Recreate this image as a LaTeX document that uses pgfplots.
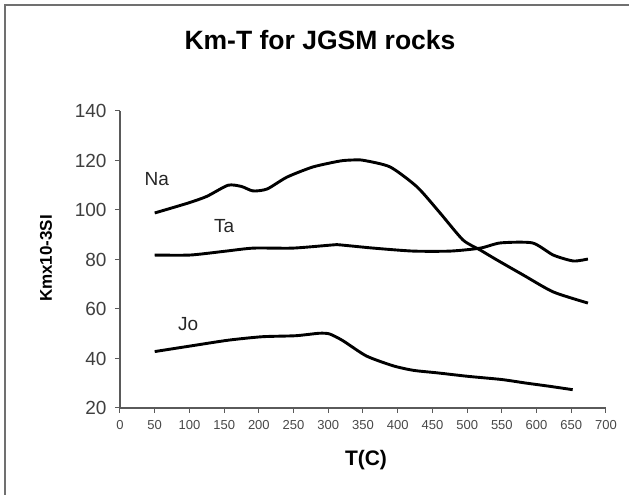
\documentclass[border=0pt]{standalone}
\usepackage{pgfplots}
\pgfplotsset{compat=1.18}
\usepackage{fontspec}
\setmainfont{Liberation Sans}
\definecolor{axgray}{HTML}{5A5A5A}
\definecolor{framegray}{HTML}{707070}
\begin{document}
\begin{tikzpicture}[x=1pt,y=1pt]
\useasboundingbox (-120,-87) rectangle (509,408);
\draw[framegray, line width=2pt] (-115,-90) -- (-115,403) -- (512,403);
\begin{axis}[
  at={(0,0)}, anchor=origin,
  scale only axis, width=486pt, height=297pt,
  xmin=0, xmax=700, ymin=20, ymax=140,
  xtick={0,50,...,700}, ytick={20,40,...,140},
  axis x line*=bottom, axis y line*=left,
  axis line style={axgray, line width=1.3pt, -},
  tick style={axgray, line width=1pt},
  tick align=outside,
  major tick length=5pt,
  /pgf/number format/assume math mode=true,
  /pgf/number format/1000 sep={},
  xticklabel style={font=\fontsize{13}{13}\selectfont, text=axgray!80!black, yshift=-4pt},
  yticklabel style={font=\fontsize{19}{19}\selectfont, text=axgray!70!black, xshift=-5pt},
  clip=false,
]
\addplot[black, line width=2.9pt, smooth, tension=0.4] coordinates {
(50,98.8) (98,102.8) (125,105.5) (155.6,110) (175,109.5) (191.6,107.7) (212,108.5) (240.6,113.3) (278,117.4) (317,119.8) (335,120.2) (350,120.1) (389,117.4) (428,109.3) (461,98.8) (494,87.9) (519,83.8) (543,79.8) (581,73.7) (624,66.9) (674,62.4)
};
\addplot[black, line width=2.9pt, smooth, tension=0.4] coordinates {
(50,81.8) (101,81.8) (150,83.3) (192,84.6) (249,84.6) (307,85.9) (317,85.9) (365,84.6) (422,83.4) (476,83.4) (519,84.6) (548,86.7) (594,86.7) (624,81.8) (653,79.4) (674,80.2)
};
\addplot[black, line width=2.9pt, smooth, tension=0.4] coordinates {
(50,42.8) (102.5,45.1) (156,47.4) (205,48.8) (253,49.2) (287,50.2) (302,49.9) (321,47.2) (355,41.0) (394,37.0) (423,35.2) (457,34.2) (501,32.8) (550,31.5) (584,30.1) (618,28.8) (652,27.4)
};
\node[font=\fontsize{19}{19}\selectfont, text=black!85] at (axis cs:53,112.5) {Na};
\node[font=\fontsize{19}{19}\selectfont, text=black!85] at (axis cs:150,93.5) {Ta};
\node[font=\fontsize{19}{19}\selectfont, text=black!85] at (axis cs:98,54) {Jo};
\end{axis}
\node[anchor=base, font=\fontsize{26.5}{26.5}\selectfont\bfseries] at (200,358) {Km-T for JGSM rocks};
\node[rotate=90, font=\fontsize{17}{17}\selectfont\bfseries] at (-74,149.5) {Kmx10-3SI};
\node[font=\fontsize{21}{21}\selectfont\bfseries] at (246,-52) {T(C)};
\end{tikzpicture}
\end{document}
